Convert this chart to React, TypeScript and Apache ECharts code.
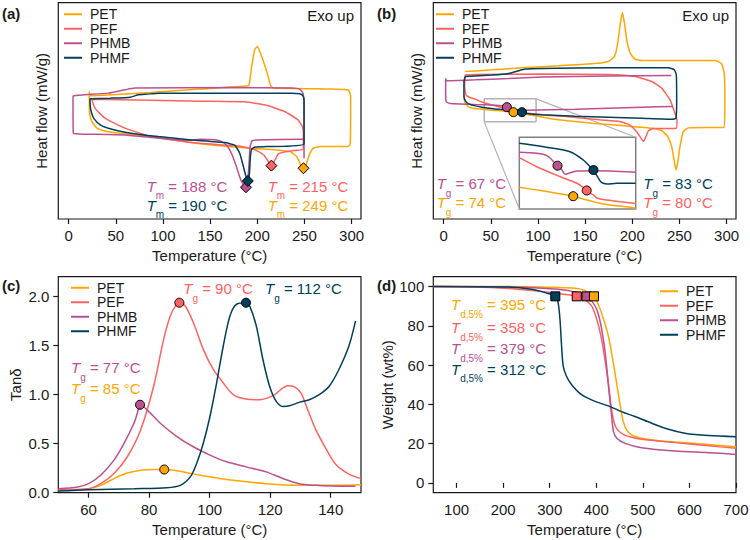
import React, { useEffect, useRef } from 'react';
import * as echarts from 'echarts';

const FONT = '"Liberation Sans", Arial, Helvetica, sans-serif';
const INK = '#1a1a1a';

const POLYMERS = ['PET', 'PEF', 'PHMB', 'PHMF'];
const COLORS: Record<string, string> = {
  PET: '#ffa600',
  PEF: '#ff6361',
  PHMB: '#bc5090',
  PHMF: '#003f5c',
};

// ---------- (a) DSC, first run: [temperature (°C), heat flow (a.u., exo up)]
const dscA_PET = [[21.9,12.73],[21.9,11.9],[22.2,10.57],[24.7,9.73],[30,9.07],[40.6,8.73],[54.7,8.57],[86.5,8.23],[121.8,7.73],[157.1,7.33],[192.4,7.07],[220.6,6.9],[234.7,6.73],[241.8,6.23],[246.4,5.33],[249,5.07],[251.7,5.4],[255.2,6.4],[259.4,7.07],[266.5,7.23],[296.5,7.23],[298.6,7.5],[299,12.23],[296.5,12.9],[280.6,12.97],[217.1,13.07],[214.3,13.3],[210,14.73],[204.7,16.23],[200.1,17.23],[197.3,16.9],[194.1,15.23],[191.7,13.57],[190.3,13.3],[139.4,12.97],[86.5,12.63],[51.2,12.43],[22.6,12.3]];
const dscA_PEF = [[24.4,11.97],[86.5,11.87],[139.4,11.77],[186.7,11.7],[207.9,11.4],[229.1,10.73],[243.2,9.9],[247.8,9.23],[248.9,8.57],[248.9,7.0],[238.3,6.83],[227.7,6.67],[222.4,6.5],[219.2,5.97],[215,5.33],[211.8,5.73],[207.2,6.37],[199.4,6.83],[188.8,7.13],[174.7,7.33],[130.3,7.63],[87.9,8.23],[59.7,9.07],[38.5,10.07],[27.9,11.07],[24.4,11.97]];
const dscA_PHMB = [[249.6,6.07],[249.6,11.23],[248.5,12.57],[245,12.97],[236.1,13.07],[174.7,13.13],[70.2,13.07],[59.7,12.9],[42,12.57],[15.9,12.4],[4.9,12.3],[4.6,11.9],[4.9,8.57],[10.2,8.5],[59.7,8.4],[95,8.07],[125,7.85],[140,7.97],[155,7.92],[163,7.7],[168,7.3],[172.6,6.57],[177.9,5.23],[182.5,3.9],[185,3.5],[188,3.17],[189.9,3.9],[191.3,5.57],[192.4,7.23],[194.5,7.8],[199.4,7.9],[247.1,7.97],[249.6,7.97]];
const dscA_PHMF = [[22.6,12.07],[22.9,11.23],[24.4,10.57],[27.2,9.97],[33.5,9.4],[42,9.07],[59.7,8.67],[95,8.23],[130.3,7.9],[165.5,7.63],[176.1,7.37],[181.4,6.57],[185.3,5.23],[188.1,4.23],[190,3.8],[191.7,4.57],[192.7,6.23],[194.1,6.97],[197.7,7.2],[210,7.23],[249.6,7.5],[249.6,11.9],[248.5,12.3],[245,12.5],[236.1,12.57],[95,12.57],[83,12.47],[73.8,12.4],[65.3,12.17],[44.1,12.07],[22.6,12.0]];
const meltA = [
  { name: 'PHMB', T: 188, v: 3.17 },
  { name: 'PHMF', T: 190, v: 3.8 },
  { name: 'PEF', T: 215, v: 5.33 },
  { name: 'PET', T: 249, v: 5.07 },
];

// ---------- (b) DSC, second run
const dscB_PET = [[21.5,12.4],[22.2,11.73],[25.8,11.23],[33.5,11.03],[51.2,10.87],[74,10.67],[97.1,10.3],[121.8,9.9],[157.1,9.57],[192.4,9.3],[220.6,9.07],[231.2,8.83],[237.6,8.23],[241.8,7.23],[244.3,5.9],[246.4,4.9],[248.1,5.57],[250.6,7.23],[254.1,8.73],[259.4,9.1],[280.6,9.13],[297.5,9.13],[298.2,11.9],[297.5,14.57],[294.7,15.5],[287.7,15.83],[210,15.83],[202.9,15.97],[197.7,16.57],[194.1,17.9],[191.7,19.57],[189.5,20.63],[187.4,19.57],[184.6,17.57],[181.1,16.23],[174.7,15.73],[157.1,15.5],[121.8,15.3],[86.5,15.13],[51.2,14.9],[22.9,14.73]];
const dscB_PEF = [[22.9,14.4],[22.2,13.23],[23.6,12.4],[27.9,12.13],[33.5,11.97],[42,11.63],[54.7,11.3],[66.7,11.0],[83,10.67],[104.1,10.4],[130.3,10.23],[165.5,9.9],[186.7,9.73],[197.3,9.4],[204.4,8.73],[209.3,8.07],[211.8,7.73],[214.3,8.17],[217.1,8.8],[222,9.03],[246.7,9.07],[247.4,9.9],[245.3,10.57],[240,11.9],[231.2,13.07],[220.6,13.73],[203,14.23],[174.7,14.43],[104.1,14.47],[33.5,14.43],[22.9,14.4]];
const dscB_PHMB = [[241.4,14.33],[174.7,14.27],[104.1,14.17],[68.8,14.03],[33.5,13.9],[3.2,13.8],[2.1,14.03],[2.1,12.23],[2.8,11.7],[7.1,11.53],[33.5,11.43],[54.7,11.37],[61.8,11.3],[67,11.17],[70.6,10.97],[75.9,10.9],[86.5,10.87],[139.4,10.97],[174.7,11.07],[210,11.17],[243.2,11.23]];
const dscB_PHMF = [[22.9,14.23],[21.5,13.73],[21.5,12.23],[22.9,11.83],[26.5,11.5],[40.6,11.17],[61.8,10.93],[75.9,10.83],[83,10.67],[90,10.5],[104.1,10.4],[139.4,10.27],[174.7,10.17],[210,10.07],[243.6,9.97],[246.4,10.07],[247.1,11.9],[246.7,14.4],[244.6,14.9],[238.3,15.1],[174.7,15.1],[104.1,15.03],[86.5,14.97],[79.4,14.8],[68.8,14.53],[51.2,14.37],[22.9,14.23]];
const glassB = [
  { name: 'PHMB', T: 67, v: 11.17 },
  { name: 'PET', T: 74, v: 10.67 },
  { name: 'PHMF', T: 83, v: 10.67 },
  { name: 'PEF', T: 80, v: 10.75 },
];
// magnified glass-transition region shown in the inset (offset traces)
const insetWindow = { T: [43, 98], hf: [9.7, 12.0] };
const insetPET = [[50,21.7],[60.8,18],[72.6,13.5],[74,12.8],[83,7.3],[90.4,4],[97.8,2.3],[101.8,0.7]];
const insetPEF = [[50,51.3],[57.8,42.3],[68.2,32.3],[75.6,25.7],[78.5,21.5],[80,18.5],[81.5,15.8],[83,14],[84.8,10.7],[89,9],[94.9,7.3],[101.8,5.6]];
const insetPHMB = [[50,56.7],[57.8,55.7],[62.3,53.3],[66,45.7],[67,43.3],[69,39],[70.4,34.7],[71.9,35.7],[75.6,38],[83,38.3],[90.4,38],[101.8,36.7]];
const insetPHMF = [[50,65.7],[60.8,62.3],[72.6,57.3],[78.5,49],[81.5,42.3],[83,39],[84.8,32.3],[86.7,26.3],[89,25],[93.4,25.7],[101.8,25.7]];
const insetMarks = [
  { name: 'PHMB', T: 67, v: 43.3 },
  { name: 'PET', T: 74, v: 12.8 },
  { name: 'PEF', T: 80, v: 18.5 },
  { name: 'PHMF', T: 83, v: 39 },
];

// ---------- (c) DMA: [temperature (°C), tan δ]
const dma_PET = [[50,0.024],[60,0.041],[64,0.075],[68.4,0.144],[72.8,0.2],[77.2,0.229],[81.6,0.236],[85,0.236],[91.4,0.212],[96.8,0.178],[107.8,0.126],[118.7,0.092],[129.6,0.075],[140.5,0.075],[150,0.082]];
const dma_PEF = [[50,0.031],[60,0.041],[64,0.092],[68.4,0.195],[72.8,0.366],[77.2,0.639],[81.5,1.084],[84.8,1.562],[87,1.8],[89,1.915],[90,1.935],[91.9,1.904],[94.6,1.733],[97.9,1.46],[101.2,1.255],[104.5,1.118],[107.8,1.0],[112,0.954],[116.5,0.947],[120.9,0.988],[124.2,1.067],[125.8,1.09],[128,1.077],[130.2,1.015],[132.4,0.844],[135.1,0.64],[138.4,0.45],[141.6,0.29],[146,0.19],[150,0.144]];
const dma_PHMB = [[50,0.041],[56.4,0.058],[60,0.092],[64,0.178],[68.4,0.332],[71.7,0.503],[75,0.708],[76.1,0.81],[77,0.896],[79.3,0.844],[83.7,0.708],[89.2,0.571],[94.6,0.468],[100.1,0.383],[105.6,0.315],[112.1,0.263],[118.7,0.212],[124.2,0.144],[129.6,0.092],[135.1,0.075],[140.5,0.068],[148.2,0.065]];
const dma_PHMF = [[50,0.017],[60,0.031],[75,0.041],[85.9,0.051],[90.3,0.075],[93.6,0.161],[95.7,0.297],[97.9,0.503],[100.1,0.776],[102.3,1.118],[104.5,1.494],[106.7,1.8],[108.9,1.92],[112,1.935],[113.2,1.904],[115.4,1.699],[117.6,1.357],[119.8,1.084],[122,0.93],[124.2,0.879],[126.3,0.885],[129.6,0.92],[132.9,0.947],[136.2,0.998],[139.5,1.084],[142.7,1.255],[146,1.494],[148.2,1.75]];
const glassC = [
  { name: 'PET', T: 85, v: 0.236 },
  { name: 'PHMB', T: 77, v: 0.896 },
  { name: 'PEF', T: 90, v: 1.935 },
  { name: 'PHMF', T: 112, v: 1.935 },
];

// ---------- (d) TGA: [temperature (°C), weight (wt%)]
const tga_PET = [[50,100],[211,100],[318,99.5],[354,99.1],[372,98.3],[383,96.9],[395,95],[401,92.5],[411,86.7],[426,74.7],[436.5,61.1],[446,47.4],[453,37.2],[458,31.2],[465,27],[476,24.4],[497,22.7],[533,21.5],[569,20.8],[641,19.6],[700,18.4]];
const tga_PEF = [[50,100],[139,99.8],[211,99],[268,97.8],[311,96.6],[358,95],[376,93.2],[390,90.1],[401,83.3],[410,74.7],[418.6,62.8],[425.8,50.9],[432.9,37.2],[438.7,30.4],[445.8,27],[458,24.7],[476,23.2],[497,22.2],[569,20.5],[641,18.9],[700,17.6]];
const tga_PHMB = [[50,100],[211,99.8],[318,98.6],[361,96.9],[379,95],[390,92.7],[401,88.4],[411,79],[420,64.5],[427,47.4],[433,33.8],[437,26.1],[444,22.7],[462,20.1],[497,17.9],[569,16.2],[641,15.4],[700,14.5]];
const tga_PHMF = [[50,100],[211,99.7],[261,98.6],[290,96.9],[312,95],[318,91.8],[322,83.3],[325.5,69.6],[329,59.4],[336,54.3],[347,50],[368.5,44.9],[397,41.5],[426,39.2],[454,36.3],[483,33.8],[519,30.4],[555,27.3],[590,25.3],[641,24.1],[700,23.5]];
const decomp = [
  { name: 'PHMF', T: 312, v: 95 },
  { name: 'PEF', T: 358, v: 95 },
  { name: 'PHMB', T: 379, v: 95 },
  { name: 'PET', T: 395, v: 95 },
];

// tick values
const dscTicks = [0, 50, 100, 150, 200, 250, 300];
const dmaTempTicks = [60, 80, 100, 120, 140];
const tanTicks = [0, 0.5, 1.0, 1.5, 2.0];
const tgaTempTicks = [100, 200, 300, 400, 500, 600, 700];
const weightTicks = [0, 20, 40, 60, 80, 100];

// ---------- layout
const GRIDS = [
  { left: 58.3, top: 2.7, width: 302.7, height: 216.3 },
  { left: 433.3, top: 2.7, width: 302.7, height: 216.3 },
  { left: 58.3, top: 276.7, width: 302.7, height: 216 },
  { left: 433.3, top: 276.7, width: 302.7, height: 216 },
  { left: 519.3, top: 137.3, width: 116.4, height: 71.7 },
];

const ANNOT_POS: Record<string, Record<string, [number, number]>> = {
  a: { PHMB: [146.7, 187.7], PHMF: [146.7, 206.7], PEF: [267.7, 187.7], PET: [267.7, 206.7] },
  b: { PHMB: [436.7, 185], PET: [436.7, 204.3], PHMF: [643.3, 185], PEF: [643.3, 204.3] },
  c: { PEF: [183.3, 290], PHMF: [265, 290], PHMB: [71, 369], PET: [71, 390] },
  d: { PET: [451, 306], PEF: [451, 329.3], PHMB: [451, 350], PHMF: [451, 370.7] },
};

const RICH = {
  t: { fontSize: 15, fontStyle: 'italic', fontFamily: FONT, lineHeight: 18, verticalAlign: 'top' },
  s: { fontSize: 10, fontFamily: FONT, lineHeight: 10, padding: [12, 0, 0, 0], verticalAlign: 'top' },
  n: { fontSize: 15, fontFamily: FONT, lineHeight: 18, verticalAlign: 'top' },
};

function annotation(id: string, pos: [number, number], sub: string, value: number, color: string) {
  return {
    type: 'text',
    id,
    x: pos[0],
    y: pos[1] - 9,
    silent: true,
    z: 100,
    style: {
      text: `{t|T}{s|${sub}}{n| = ${value} °C}`,
      rich: RICH,
      fill: color,
      align: 'left',
      verticalAlign: 'top',
    },
  };
}

function trace(name: string, data: number[][], axis: number, smooth: number) {
  return {
    type: 'line',
    name,
    data,
    xAxisIndex: axis,
    yAxisIndex: axis,
    symbol: 'none',
    showSymbol: false,
    smooth,
    silent: true,
    z: 3,
    lineStyle: { color: COLORS[name], width: 1.5 },
    itemStyle: { color: COLORS[name] },
    emphasis: { disabled: true },
  };
}

function markers(tag: string, items: { name: string; T: number; v: number }[], axis: number, symbol: string, size: number) {
  return items.map((m) => ({
    type: 'scatter',
    name: `${tag}-${m.name}`,
    data: [[m.T, m.v]],
    xAxisIndex: axis,
    yAxisIndex: axis,
    symbol,
    symbolSize: size,
    silent: true,
    z: 6,
    itemStyle: { color: COLORS[m.name], borderColor: '#000', borderWidth: 1, opacity: 1 },
    emphasis: { disabled: true },
  }));
}

const axisText = { fontSize: 15, color: INK, fontFamily: FONT };

function xAxis(gridIndex: number, min: number, max: number, ticks: number[] | null, name: string) {
  return {
    type: 'value',
    gridIndex,
    min,
    max,
    name,
    nameLocation: 'middle',
    nameGap: 29,
    nameTextStyle: axisText,
    axisLine: { show: false },
    splitLine: { show: false },
    axisTick: ticks
      ? { show: true, length: 5, lineStyle: { color: INK, width: 1.2 }, customValues: ticks }
      : { show: false },
    axisLabel: ticks ? { show: true, margin: 9, ...axisText, customValues: ticks } : { show: false },
  };
}

function yAxis(gridIndex: number, min: number, max: number, ticks: number[] | null, name: string, nameGap: number, fmt?: (v: number) => string) {
  return {
    type: 'value',
    gridIndex,
    min,
    max,
    name,
    nameLocation: 'middle',
    nameGap,
    nameRotate: 90,
    nameTextStyle: axisText,
    axisLine: { show: false },
    splitLine: { show: false },
    axisTick: ticks
      ? { show: true, length: 5, lineStyle: { color: INK, width: 1.2 }, customValues: ticks }
      : { show: false },
    axisLabel: ticks
      ? { show: true, margin: 9, ...axisText, customValues: ticks, formatter: fmt }
      : { show: false },
  };
}

function legend(left: number, top: number) {
  return {
    data: POLYMERS,
    orient: 'vertical',
    left,
    top,
    padding: 0,
    itemGap: 0,
    icon: 'rect',
    itemWidth: 18,
    itemHeight: 2,
    selectedMode: false,
    textStyle: { fontSize: 14, color: INK, fontFamily: FONT, lineHeight: 14.5, padding: [0, 0, 0, 3] },
  };
}

function buildOption() {
  const series: any[] = [];

  // window of the inset drawn on panel (b)
  series.push({
    type: 'line',
    name: 'inset-window',
    xAxisIndex: 1,
    yAxisIndex: 1,
    data: [
      [insetWindow.T[0], insetWindow.hf[0]],
      [insetWindow.T[1], insetWindow.hf[0]],
      [insetWindow.T[1], insetWindow.hf[1]],
      [insetWindow.T[0], insetWindow.hf[1]],
      [insetWindow.T[0], insetWindow.hf[0]],
    ],
    symbol: 'none',
    silent: true,
    z: 1,
    lineStyle: { color: '#b3b3b3', width: 1.5 },
  });

  const dscA: Record<string, number[][]> = { PET: dscA_PET, PEF: dscA_PEF, PHMB: dscA_PHMB, PHMF: dscA_PHMF };
  const dscB: Record<string, number[][]> = { PET: dscB_PET, PEF: dscB_PEF, PHMB: dscB_PHMB, PHMF: dscB_PHMF };
  const inset: Record<string, number[][]> = { PET: insetPET, PEF: insetPEF, PHMB: insetPHMB, PHMF: insetPHMF };
  const dma: Record<string, number[][]> = { PET: dma_PET, PEF: dma_PEF, PHMB: dma_PHMB, PHMF: dma_PHMF };
  const tga: Record<string, number[][]> = { PET: tga_PET, PEF: tga_PEF, PHMB: tga_PHMB, PHMF: tga_PHMF };

  POLYMERS.forEach((p) => {
    series.push(trace(p, dscA[p], 0, 0.15));
    series.push(trace(p, dscB[p], 1, 0.15));
    series.push(trace(p, dma[p], 2, 0.3));
    series.push(trace(p, tga[p], 3, 0.3));
    series.push(trace(p, inset[p], 4, 0.3));
  });

  series.push(...markers('tm-a', meltA, 0, 'diamond', 11));
  series.push(...markers('tg-b', glassB.filter((g) => g.name !== 'PEF'), 1, 'circle', 9));
  series.push(...markers('tg-inset', insetMarks, 4, 'circle', 9));
  series.push(...markers('tg-c', glassC, 2, 'circle', 9));
  series.push(...markers('td-d', decomp, 3, 'rect', 9));

  const graphics: any[] = [
    { type: 'text', id: 'lab-a', x: 2, y: 13, style: { text: '(a)', font: `bold 15px ${FONT}`, fill: INK, verticalAlign: 'middle' } },
    { type: 'text', id: 'lab-b', x: 377, y: 13, style: { text: '(b)', font: `bold 15px ${FONT}`, fill: INK, verticalAlign: 'middle' } },
    { type: 'text', id: 'lab-c', x: 2, y: 285, style: { text: '(c)', font: `bold 15px ${FONT}`, fill: INK, verticalAlign: 'middle' } },
    { type: 'text', id: 'lab-d', x: 377, y: 285, style: { text: '(d)', font: `bold 15px ${FONT}`, fill: INK, verticalAlign: 'middle' } },
    { type: 'text', id: 'exo-a', x: 354, y: 15, style: { text: 'Exo up', font: `15px ${FONT}`, fill: INK, align: 'right', verticalAlign: 'middle' } },
    { type: 'text', id: 'exo-b', x: 729, y: 15, style: { text: 'Exo up', font: `15px ${FONT}`, fill: INK, align: 'right', verticalAlign: 'middle' } },
  ];
  meltA.forEach((m) => graphics.push(annotation(`ann-a-${m.name}`, ANNOT_POS.a[m.name], 'm', m.T, COLORS[m.name])));
  glassB.forEach((m) => graphics.push(annotation(`ann-b-${m.name}`, ANNOT_POS.b[m.name], 'g', m.T, COLORS[m.name])));
  glassC.forEach((m) => graphics.push(annotation(`ann-c-${m.name}`, ANNOT_POS.c[m.name], 'g', m.T, COLORS[m.name])));
  decomp.forEach((m) => graphics.push(annotation(`ann-d-${m.name}`, ANNOT_POS.d[m.name], 'd,5%', m.T, COLORS[m.name])));

  return {
    animation: false,
    backgroundColor: '#ffffff',
    textStyle: { fontFamily: FONT },
    grid: GRIDS.map((g, i) => ({
      ...g,
      show: true,
      borderColor: i === 4 ? '#808080' : INK,
      borderWidth: i === 4 ? 1.5 : 1.2,
      backgroundColor: i === 4 ? '#ffffff' : 'transparent',
      containLabel: false,
      outerBoundsMode: 'none',
    })),
    xAxis: [
      xAxis(0, -11, 310, dscTicks, 'Temperature (°C)'),
      xAxis(1, -11, 310, dscTicks, 'Temperature (°C)'),
      xAxis(2, 50, 150, dmaTempTicks, 'Temperature (°C)'),
      xAxis(3, 50, 700, tgaTempTicks, 'Temperature (°C)'),
      xAxis(4, 50, 101.8, null, ''),
    ],
    yAxis: [
      yAxis(0, 0, 21.6, null, 'Heat flow (mW/g)', 9),
      yAxis(1, 0, 21.6, null, 'Heat flow (mW/g)', 9),
      yAxis(2, 0, 2.2, tanTicks, 'Tanδ', 35, (v: number) => v.toFixed(1)),
      yAxis(3, -5, 105, weightTicks, 'Weight (wt%)', 36),
      yAxis(4, 0, 71.7, null, '', 0),
    ],
    legend: [legend(64, 7), legend(436, 7), legend(71, 280.5), legend(660, 284)],
    graphic: { elements: graphics },
    series,
  };
}

export default function App() {
  const ref = useRef<HTMLDivElement>(null);

  useEffect(() => {
    if (!ref.current) return;
    const chart = echarts.init(ref.current, null, { renderer: 'svg', width: 750, height: 540 });
    chart.setOption(buildOption() as any);

    // connectors from the zoom window in (b) to the inset frame
    const w0 = chart.convertToPixel({ gridIndex: 1 } as any, [insetWindow.T[0], insetWindow.hf[0]]) as number[];
    const w1 = chart.convertToPixel({ gridIndex: 1 } as any, [insetWindow.T[1], insetWindow.hf[1]]) as number[];
    const g = GRIDS[4];
    chart.setOption({
      graphic: {
        elements: [
          { type: 'line', id: 'conn-1', z: 1, silent: true, shape: { x1: w0[0], y1: w0[1], x2: g.left, y2: g.top + g.height }, style: { stroke: '#b3b3b3', lineWidth: 1.2 } },
          { type: 'line', id: 'conn-2', z: 1, silent: true, shape: { x1: w1[0], y1: w1[1], x2: g.left + g.width, y2: g.top }, style: { stroke: '#b3b3b3', lineWidth: 1.2 } },
        ],
      },
    } as any);

    return () => chart.dispose();
  }, []);

  return (
    <div
      ref={ref}
      style={{ position: 'absolute', left: 0, top: 0, width: 750, height: 540, background: '#fff' }}
    />
  );
}
